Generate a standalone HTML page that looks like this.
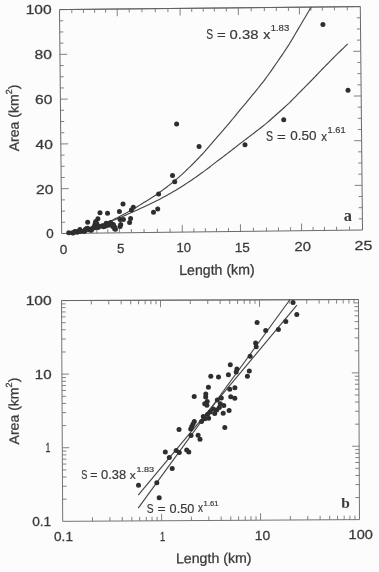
<!DOCTYPE html>
<html><head><meta charset="utf-8"><title>Area vs Length</title>
<style>html,body{margin:0;padding:0;background:#fcfcfc;}svg{display:block}</style></head>
<body><svg width="379" height="572" viewBox="0 0 379 572">
<defs><filter id="soft" x="-2%" y="-2%" width="104%" height="104%"><feGaussianBlur stdDeviation="0.32"/></filter></defs>
<rect width="379" height="572" fill="#fcfcfc"/>
<g filter="url(#soft)">
<polyline points="59.50,9.60 360.30,6.60 362.50,230.00 61.70,233.50 59.50,9.60 360.30,6.60" fill="none" stroke="#626262" stroke-width="0.95" stroke-linejoin="round"/>
<line x1="74.00" y1="233.36" x2="73.96" y2="229.76" stroke="#6c6c6c" stroke-width="0.85"/>
<line x1="71.80" y1="9.48" x2="71.84" y2="13.08" stroke="#6c6c6c" stroke-width="0.85"/>
<line x1="85.60" y1="233.22" x2="85.56" y2="229.62" stroke="#6c6c6c" stroke-width="0.85"/>
<line x1="83.40" y1="9.36" x2="83.44" y2="12.96" stroke="#6c6c6c" stroke-width="0.85"/>
<line x1="96.80" y1="233.09" x2="96.76" y2="229.49" stroke="#6c6c6c" stroke-width="0.85"/>
<line x1="94.60" y1="9.25" x2="94.64" y2="12.85" stroke="#6c6c6c" stroke-width="0.85"/>
<line x1="107.80" y1="232.96" x2="107.76" y2="229.36" stroke="#6c6c6c" stroke-width="0.85"/>
<line x1="105.60" y1="9.14" x2="105.64" y2="12.74" stroke="#6c6c6c" stroke-width="0.85"/>
<line x1="119.40" y1="232.83" x2="119.33" y2="225.63" stroke="#6c6c6c" stroke-width="0.85"/>
<line x1="117.20" y1="9.02" x2="117.27" y2="16.22" stroke="#6c6c6c" stroke-width="0.85"/>
<line x1="131.40" y1="232.69" x2="131.36" y2="229.09" stroke="#6c6c6c" stroke-width="0.85"/>
<line x1="129.20" y1="8.90" x2="129.24" y2="12.50" stroke="#6c6c6c" stroke-width="0.85"/>
<line x1="144.10" y1="232.54" x2="144.06" y2="228.94" stroke="#6c6c6c" stroke-width="0.85"/>
<line x1="141.90" y1="8.78" x2="141.94" y2="12.38" stroke="#6c6c6c" stroke-width="0.85"/>
<line x1="157.40" y1="232.39" x2="157.36" y2="228.79" stroke="#6c6c6c" stroke-width="0.85"/>
<line x1="155.20" y1="8.65" x2="155.24" y2="12.25" stroke="#6c6c6c" stroke-width="0.85"/>
<line x1="170.10" y1="232.24" x2="170.06" y2="228.64" stroke="#6c6c6c" stroke-width="0.85"/>
<line x1="167.90" y1="8.52" x2="167.94" y2="12.12" stroke="#6c6c6c" stroke-width="0.85"/>
<line x1="182.30" y1="232.10" x2="182.23" y2="224.90" stroke="#6c6c6c" stroke-width="0.85"/>
<line x1="180.10" y1="8.40" x2="180.17" y2="15.60" stroke="#6c6c6c" stroke-width="0.85"/>
<line x1="193.90" y1="231.96" x2="193.86" y2="228.36" stroke="#6c6c6c" stroke-width="0.85"/>
<line x1="191.70" y1="8.28" x2="191.74" y2="11.88" stroke="#6c6c6c" stroke-width="0.85"/>
<line x1="205.40" y1="231.83" x2="205.36" y2="228.23" stroke="#6c6c6c" stroke-width="0.85"/>
<line x1="203.20" y1="8.17" x2="203.24" y2="11.77" stroke="#6c6c6c" stroke-width="0.85"/>
<line x1="216.50" y1="231.70" x2="216.46" y2="228.10" stroke="#6c6c6c" stroke-width="0.85"/>
<line x1="214.30" y1="8.06" x2="214.34" y2="11.66" stroke="#6c6c6c" stroke-width="0.85"/>
<line x1="228.50" y1="231.56" x2="228.46" y2="227.96" stroke="#6c6c6c" stroke-width="0.85"/>
<line x1="226.30" y1="7.94" x2="226.34" y2="11.54" stroke="#6c6c6c" stroke-width="0.85"/>
<line x1="240.50" y1="231.42" x2="240.43" y2="224.22" stroke="#6c6c6c" stroke-width="0.85"/>
<line x1="238.30" y1="7.82" x2="238.37" y2="15.02" stroke="#6c6c6c" stroke-width="0.85"/>
<line x1="253.40" y1="231.27" x2="253.36" y2="227.67" stroke="#6c6c6c" stroke-width="0.85"/>
<line x1="251.20" y1="7.69" x2="251.24" y2="11.29" stroke="#6c6c6c" stroke-width="0.85"/>
<line x1="266.50" y1="231.12" x2="266.46" y2="227.52" stroke="#6c6c6c" stroke-width="0.85"/>
<line x1="264.30" y1="7.56" x2="264.34" y2="11.16" stroke="#6c6c6c" stroke-width="0.85"/>
<line x1="278.50" y1="230.98" x2="278.46" y2="227.38" stroke="#6c6c6c" stroke-width="0.85"/>
<line x1="276.30" y1="7.44" x2="276.34" y2="11.04" stroke="#6c6c6c" stroke-width="0.85"/>
<line x1="290.60" y1="230.84" x2="290.56" y2="227.24" stroke="#6c6c6c" stroke-width="0.85"/>
<line x1="288.40" y1="7.32" x2="288.44" y2="10.92" stroke="#6c6c6c" stroke-width="0.85"/>
<line x1="301.60" y1="230.71" x2="301.53" y2="223.51" stroke="#6c6c6c" stroke-width="0.85"/>
<line x1="299.40" y1="7.21" x2="299.47" y2="14.41" stroke="#6c6c6c" stroke-width="0.85"/>
<line x1="313.10" y1="230.57" x2="313.06" y2="226.97" stroke="#6c6c6c" stroke-width="0.85"/>
<line x1="310.90" y1="7.09" x2="310.94" y2="10.69" stroke="#6c6c6c" stroke-width="0.85"/>
<line x1="324.50" y1="230.44" x2="324.46" y2="226.84" stroke="#6c6c6c" stroke-width="0.85"/>
<line x1="322.30" y1="6.98" x2="322.34" y2="10.58" stroke="#6c6c6c" stroke-width="0.85"/>
<line x1="336.60" y1="230.30" x2="336.56" y2="226.70" stroke="#6c6c6c" stroke-width="0.85"/>
<line x1="334.40" y1="6.86" x2="334.44" y2="10.46" stroke="#6c6c6c" stroke-width="0.85"/>
<line x1="349.50" y1="230.15" x2="349.46" y2="226.55" stroke="#6c6c6c" stroke-width="0.85"/>
<line x1="347.30" y1="6.73" x2="347.34" y2="10.33" stroke="#6c6c6c" stroke-width="0.85"/>
<line x1="61.59" y1="222.30" x2="65.19" y2="222.26" stroke="#6c6c6c" stroke-width="0.85"/>
<line x1="362.39" y1="218.83" x2="358.79" y2="218.87" stroke="#6c6c6c" stroke-width="0.85"/>
<line x1="61.48" y1="211.11" x2="65.08" y2="211.07" stroke="#6c6c6c" stroke-width="0.85"/>
<line x1="362.28" y1="207.66" x2="358.68" y2="207.70" stroke="#6c6c6c" stroke-width="0.85"/>
<line x1="61.37" y1="199.91" x2="64.97" y2="199.87" stroke="#6c6c6c" stroke-width="0.85"/>
<line x1="362.17" y1="196.49" x2="358.57" y2="196.53" stroke="#6c6c6c" stroke-width="0.85"/>
<line x1="61.26" y1="188.72" x2="68.66" y2="188.63" stroke="#6c6c6c" stroke-width="0.85"/>
<line x1="362.06" y1="185.32" x2="354.66" y2="185.41" stroke="#6c6c6c" stroke-width="0.85"/>
<line x1="61.15" y1="177.53" x2="64.75" y2="177.48" stroke="#6c6c6c" stroke-width="0.85"/>
<line x1="361.95" y1="174.15" x2="358.35" y2="174.19" stroke="#6c6c6c" stroke-width="0.85"/>
<line x1="61.04" y1="166.33" x2="64.64" y2="166.29" stroke="#6c6c6c" stroke-width="0.85"/>
<line x1="361.84" y1="162.98" x2="358.24" y2="163.02" stroke="#6c6c6c" stroke-width="0.85"/>
<line x1="60.93" y1="155.14" x2="64.53" y2="155.09" stroke="#6c6c6c" stroke-width="0.85"/>
<line x1="361.73" y1="151.81" x2="358.13" y2="151.85" stroke="#6c6c6c" stroke-width="0.85"/>
<line x1="60.82" y1="143.94" x2="68.22" y2="143.85" stroke="#6c6c6c" stroke-width="0.85"/>
<line x1="361.62" y1="140.64" x2="354.22" y2="140.73" stroke="#6c6c6c" stroke-width="0.85"/>
<line x1="60.71" y1="132.75" x2="64.31" y2="132.70" stroke="#6c6c6c" stroke-width="0.85"/>
<line x1="361.51" y1="129.47" x2="357.91" y2="129.51" stroke="#6c6c6c" stroke-width="0.85"/>
<line x1="60.60" y1="121.55" x2="64.20" y2="121.51" stroke="#6c6c6c" stroke-width="0.85"/>
<line x1="361.40" y1="118.30" x2="357.80" y2="118.34" stroke="#6c6c6c" stroke-width="0.85"/>
<line x1="60.49" y1="110.35" x2="64.09" y2="110.31" stroke="#6c6c6c" stroke-width="0.85"/>
<line x1="361.29" y1="107.13" x2="357.69" y2="107.17" stroke="#6c6c6c" stroke-width="0.85"/>
<line x1="60.38" y1="99.16" x2="67.78" y2="99.07" stroke="#6c6c6c" stroke-width="0.85"/>
<line x1="361.18" y1="95.96" x2="353.78" y2="96.05" stroke="#6c6c6c" stroke-width="0.85"/>
<line x1="60.27" y1="87.96" x2="63.87" y2="87.92" stroke="#6c6c6c" stroke-width="0.85"/>
<line x1="361.07" y1="84.79" x2="357.47" y2="84.83" stroke="#6c6c6c" stroke-width="0.85"/>
<line x1="60.16" y1="76.77" x2="63.76" y2="76.73" stroke="#6c6c6c" stroke-width="0.85"/>
<line x1="360.96" y1="73.62" x2="357.36" y2="73.66" stroke="#6c6c6c" stroke-width="0.85"/>
<line x1="60.05" y1="65.58" x2="63.65" y2="65.53" stroke="#6c6c6c" stroke-width="0.85"/>
<line x1="360.85" y1="62.45" x2="357.25" y2="62.49" stroke="#6c6c6c" stroke-width="0.85"/>
<line x1="59.94" y1="54.38" x2="67.34" y2="54.29" stroke="#6c6c6c" stroke-width="0.85"/>
<line x1="360.74" y1="51.28" x2="353.34" y2="51.37" stroke="#6c6c6c" stroke-width="0.85"/>
<line x1="59.83" y1="43.19" x2="63.43" y2="43.14" stroke="#6c6c6c" stroke-width="0.85"/>
<line x1="360.63" y1="40.11" x2="357.03" y2="40.15" stroke="#6c6c6c" stroke-width="0.85"/>
<line x1="59.72" y1="31.99" x2="63.32" y2="31.95" stroke="#6c6c6c" stroke-width="0.85"/>
<line x1="360.52" y1="28.94" x2="356.92" y2="28.98" stroke="#6c6c6c" stroke-width="0.85"/>
<line x1="59.61" y1="20.80" x2="63.21" y2="20.75" stroke="#6c6c6c" stroke-width="0.85"/>
<line x1="360.41" y1="17.77" x2="356.81" y2="17.81" stroke="#6c6c6c" stroke-width="0.85"/>
<polyline points="68.46,233.14 69.91,233.00 71.36,232.84 72.81,232.66 74.24,232.47 75.60,232.26 76.97,232.03 78.33,231.78 79.70,231.52 81.06,231.24 82.43,230.94 83.79,230.63 85.15,230.30 86.49,229.96 87.80,229.60 89.12,229.22 90.43,228.83 91.75,228.42 93.07,228.00 94.38,227.56 95.70,227.11 97.01,226.64 98.30,226.16 99.59,225.66 100.88,225.15 102.17,224.63 103.46,224.08 104.76,223.53 106.05,222.96 107.34,222.38 108.68,221.78 110.04,221.17 111.40,220.54 112.76,219.90 114.12,219.24 115.48,218.58 116.84,217.89 118.20,217.20 119.57,216.49 120.98,215.76 122.39,215.03 123.80,214.28 125.20,213.51 126.61,212.73 128.01,211.94 129.42,211.14 130.83,210.32 132.30,209.49 133.78,208.64 135.27,207.79 136.76,206.91 138.25,206.03 139.74,205.13 141.22,204.22 142.71,203.30 144.22,202.36 145.78,201.41 147.33,200.45 148.89,199.48 150.45,198.49 152.01,197.49 153.56,196.47 155.12,195.45 156.68,194.41 158.18,193.36 159.67,192.29 161.15,191.22 162.64,190.13 164.13,189.03 165.61,187.92 167.10,186.79 168.58,185.65 170.05,184.50 171.48,183.34 172.90,182.17 174.33,180.98 175.76,179.78 177.18,178.57 178.61,177.35 180.03,176.12 181.46,174.87 182.83,173.61 184.18,172.34 185.54,171.06 186.89,169.76 188.24,168.46 189.60,167.14 190.95,165.81 192.31,164.47 193.66,163.11 195.00,161.74 196.34,160.37 197.68,158.98 199.02,157.58 200.36,156.16 201.71,154.74 203.05,153.30 204.39,151.85 205.69,150.39 206.98,148.92 208.28,147.44 209.57,145.94 210.86,144.43 212.16,142.92 213.45,141.39 214.74,139.85 216.07,138.29 217.47,136.73 218.87,135.15 220.27,133.56 221.67,131.96 223.07,130.35 224.46,128.72 225.86,127.09 227.26,125.44 228.66,123.79 230.06,122.12 231.45,120.44 232.85,118.75 234.25,117.04 235.65,115.33 237.04,113.60 238.44,111.87 239.88,110.12 241.38,108.36 242.88,106.58 244.39,104.80 245.89,103.01 247.39,101.20 248.89,99.39 250.40,97.56 251.90,95.72 253.42,93.87 254.95,92.01 256.47,90.13 258.00,88.25 259.52,86.35 261.05,84.45 262.57,82.53 264.10,80.60 265.57,78.67 266.96,76.72 268.36,74.76 269.75,72.79 271.15,70.80 272.54,68.81 273.94,66.81 275.33,64.79 276.73,62.77 278.13,60.73 279.54,58.68 280.94,56.63 282.35,54.56 283.75,52.48 285.16,50.38 286.57,48.28 287.97,46.17 289.32,44.05 290.60,41.91 291.87,39.77 293.15,37.62 294.42,35.45 295.70,33.27 296.97,31.09 298.25,28.89 299.52,26.68 300.85,24.46 302.18,22.23 303.52,19.99 304.85,17.74 306.18,15.48 307.52,13.20 308.85,10.92 310.18,8.63 311.07,7.09" fill="none" stroke="#464646" stroke-width="1.15" stroke-linejoin="round"/>
<polyline points="68.46,232.99 69.91,232.82 71.36,232.63 72.80,232.42 74.24,232.20 75.60,231.96 76.97,231.70 78.33,231.44 79.69,231.16 81.06,230.86 82.42,230.56 83.79,230.24 85.15,229.91 86.48,229.57 87.80,229.21 89.11,228.85 90.43,228.47 91.75,228.09 93.06,227.69 94.38,227.28 95.69,226.87 97.01,226.44 98.30,226.00 99.59,225.56 100.88,225.10 102.17,224.63 103.46,224.16 104.76,223.67 106.05,223.18 107.34,222.68 108.68,222.16 110.04,221.64 111.41,221.11 112.77,220.58 114.13,220.03 115.49,219.47 116.85,218.91 118.21,218.34 119.59,217.76 120.99,217.17 122.40,216.57 123.81,215.97 125.22,215.35 126.63,214.73 128.04,214.10 129.44,213.47 130.85,212.82 132.32,212.17 133.81,211.51 135.30,210.84 136.79,210.17 138.28,209.49 139.77,208.80 141.26,208.10 142.75,207.40 144.26,206.69 145.82,205.97 147.38,205.24 148.94,204.51 150.50,203.77 152.06,203.02 153.62,202.27 155.18,201.51 156.74,200.74 158.25,199.96 159.74,199.18 161.22,198.40 162.71,197.60 164.20,196.80 165.69,196.00 167.18,195.18 168.67,194.36 170.14,193.54 171.57,192.71 173.00,191.87 174.43,191.02 175.86,190.17 177.29,189.31 178.72,188.45 180.15,187.58 181.57,186.70 182.95,185.82 184.31,184.93 185.66,184.04 187.02,183.14 188.38,182.23 189.74,181.32 191.10,180.40 192.45,179.48 193.81,178.55 195.15,177.61 196.50,176.67 197.85,175.72 199.19,174.77 200.54,173.81 201.88,172.84 203.23,171.87 204.58,170.89 205.88,169.91 207.18,168.92 208.48,167.93 209.78,166.93 211.07,165.92 212.37,164.91 213.67,163.89 214.97,162.87 216.30,161.84 217.71,160.81 219.11,159.77 220.52,158.72 221.92,157.67 223.32,156.61 224.73,155.55 226.13,154.48 227.54,153.41 228.94,152.33 230.34,151.25 231.75,150.16 233.15,149.06 234.55,147.96 235.96,146.86 237.36,145.75 238.76,144.63 240.21,143.51 241.71,142.38 243.22,141.25 244.73,140.11 246.24,138.97 247.75,137.82 249.26,136.66 250.77,135.50 252.28,134.34 253.81,133.17 255.34,131.99 256.87,130.81 258.40,129.63 259.94,128.44 261.47,127.24 263.00,126.04 264.53,124.84 266.01,123.63 267.41,122.41 268.82,121.20 270.22,119.97 271.62,118.74 273.02,117.51 274.43,116.27 275.83,115.03 277.23,113.78 278.64,112.52 280.06,111.26 281.47,110.00 282.88,108.73 284.30,107.46 285.71,106.18 287.12,104.90 288.54,103.61 289.89,102.32 291.18,101.02 292.46,99.72 293.74,98.42 295.03,97.11 296.31,95.79 297.59,94.47 298.88,93.15 300.16,91.82 301.50,90.48 302.84,89.14 304.18,87.80 305.53,86.45 306.87,85.10 308.21,83.74 309.55,82.38 310.89,81.01 312.23,79.64 313.56,78.26 314.89,76.88 316.22,75.49 317.55,74.10 318.88,72.71 320.21,71.31 321.54,69.90 322.87,68.50 324.28,67.08 325.69,65.66 327.10,64.24 328.51,62.81 329.93,61.38 331.34,59.94 332.75,58.50 334.16,57.06 335.62,55.61 337.13,54.15 338.63,52.69 340.14,51.23 341.64,49.76 343.15,48.29 344.65,46.81 346.16,45.33 347.67,43.84" fill="none" stroke="#464646" stroke-width="1.15" stroke-linejoin="round"/>
<circle cx="322.90" cy="24.60" r="2.5" fill="#2e2e2e"/>
<circle cx="348.00" cy="90.20" r="2.5" fill="#2e2e2e"/>
<circle cx="283.70" cy="119.70" r="2.5" fill="#2e2e2e"/>
<circle cx="245.00" cy="144.70" r="2.5" fill="#2e2e2e"/>
<circle cx="199.05" cy="146.50" r="2.5" fill="#2e2e2e"/>
<circle cx="176.60" cy="124.10" r="2.5" fill="#2e2e2e"/>
<circle cx="172.50" cy="175.50" r="2.5" fill="#2e2e2e"/>
<circle cx="174.70" cy="181.80" r="2.5" fill="#2e2e2e"/>
<circle cx="158.60" cy="194.00" r="2.5" fill="#2e2e2e"/>
<circle cx="157.70" cy="209.10" r="2.5" fill="#2e2e2e"/>
<circle cx="153.50" cy="212.20" r="2.5" fill="#2e2e2e"/>
<circle cx="133.30" cy="207.20" r="2.5" fill="#2e2e2e"/>
<circle cx="131.40" cy="209.90" r="2.5" fill="#2e2e2e"/>
<circle cx="123.00" cy="203.90" r="2.5" fill="#2e2e2e"/>
<circle cx="119.40" cy="211.40" r="2.5" fill="#2e2e2e"/>
<circle cx="130.60" cy="218.60" r="2.5" fill="#2e2e2e"/>
<circle cx="129.60" cy="222.60" r="2.5" fill="#2e2e2e"/>
<circle cx="123.40" cy="219.60" r="2.5" fill="#2e2e2e"/>
<circle cx="120.10" cy="219.60" r="2.5" fill="#2e2e2e"/>
<circle cx="120.70" cy="224.60" r="2.5" fill="#2e2e2e"/>
<circle cx="120.10" cy="226.60" r="2.5" fill="#2e2e2e"/>
<circle cx="115.40" cy="229.20" r="2.5" fill="#2e2e2e"/>
<circle cx="112.80" cy="224.60" r="2.5" fill="#2e2e2e"/>
<circle cx="114.80" cy="227.20" r="2.5" fill="#2e2e2e"/>
<circle cx="68.75" cy="232.73" r="2.5" fill="#2e2e2e"/>
<circle cx="73.10" cy="232.91" r="2.5" fill="#2e2e2e"/>
<circle cx="72.50" cy="232.64" r="2.5" fill="#2e2e2e"/>
<circle cx="77.18" cy="232.17" r="2.5" fill="#2e2e2e"/>
<circle cx="74.90" cy="231.42" r="2.5" fill="#2e2e2e"/>
<circle cx="76.18" cy="231.71" r="2.5" fill="#2e2e2e"/>
<circle cx="78.72" cy="231.28" r="2.5" fill="#2e2e2e"/>
<circle cx="79.99" cy="231.40" r="2.5" fill="#2e2e2e"/>
<circle cx="83.44" cy="231.20" r="2.5" fill="#2e2e2e"/>
<circle cx="84.52" cy="231.31" r="2.5" fill="#2e2e2e"/>
<circle cx="79.90" cy="229.40" r="2.5" fill="#2e2e2e"/>
<circle cx="85.76" cy="230.01" r="2.5" fill="#2e2e2e"/>
<circle cx="90.09" cy="229.94" r="2.5" fill="#2e2e2e"/>
<circle cx="91.36" cy="230.30" r="2.5" fill="#2e2e2e"/>
<circle cx="87.71" cy="228.23" r="2.5" fill="#2e2e2e"/>
<circle cx="86.93" cy="228.61" r="2.5" fill="#2e2e2e"/>
<circle cx="86.23" cy="228.96" r="2.5" fill="#2e2e2e"/>
<circle cx="85.60" cy="229.29" r="2.5" fill="#2e2e2e"/>
<circle cx="92.46" cy="228.20" r="2.5" fill="#2e2e2e"/>
<circle cx="97.90" cy="218.64" r="2.5" fill="#2e2e2e"/>
<circle cx="87.67" cy="222.37" r="2.5" fill="#2e2e2e"/>
<circle cx="95.76" cy="221.42" r="2.5" fill="#2e2e2e"/>
<circle cx="95.68" cy="222.47" r="2.5" fill="#2e2e2e"/>
<circle cx="110.60" cy="222.59" r="2.5" fill="#2e2e2e"/>
<circle cx="106.23" cy="223.32" r="2.5" fill="#2e2e2e"/>
<circle cx="96.88" cy="223.83" r="2.5" fill="#2e2e2e"/>
<circle cx="94.89" cy="224.49" r="2.5" fill="#2e2e2e"/>
<circle cx="96.63" cy="224.87" r="2.5" fill="#2e2e2e"/>
<circle cx="109.45" cy="224.35" r="2.5" fill="#2e2e2e"/>
<circle cx="113.50" cy="224.72" r="2.5" fill="#2e2e2e"/>
<circle cx="108.34" cy="225.30" r="2.5" fill="#2e2e2e"/>
<circle cx="102.24" cy="225.73" r="2.5" fill="#2e2e2e"/>
<circle cx="105.59" cy="225.92" r="2.5" fill="#2e2e2e"/>
<circle cx="99.41" cy="226.40" r="2.5" fill="#2e2e2e"/>
<circle cx="103.58" cy="226.64" r="2.5" fill="#2e2e2e"/>
<circle cx="112.75" cy="226.50" r="2.5" fill="#2e2e2e"/>
<circle cx="97.10" cy="226.94" r="2.5" fill="#2e2e2e"/>
<circle cx="93.80" cy="227.33" r="2.5" fill="#2e2e2e"/>
<circle cx="98.01" cy="227.59" r="2.5" fill="#2e2e2e"/>
<circle cx="94.93" cy="227.70" r="2.5" fill="#2e2e2e"/>
<circle cx="114.62" cy="228.80" r="2.5" fill="#2e2e2e"/>
<circle cx="99.98" cy="212.69" r="2.5" fill="#2e2e2e"/>
<circle cx="107.53" cy="213.14" r="2.5" fill="#2e2e2e"/>
<text transform="translate(25.72,14.07) rotate(0) scale(1.1408,1)" font-family='"Liberation Sans", Arial, Helvetica, sans-serif' font-size="13.63" fill="#3a3a3a" stroke="#3a3a3a" stroke-width="0.28">100</text>
<text transform="translate(34.52,58.67) rotate(0) scale(1.1713,1)" font-family='"Liberation Sans", Arial, Helvetica, sans-serif' font-size="13.35" fill="#3a3a3a" stroke="#3a3a3a" stroke-width="0.28">80</text>
<text transform="translate(35.11,104.07) rotate(0) scale(1.1651,1)" font-family='"Liberation Sans", Arial, Helvetica, sans-serif' font-size="13.35" fill="#3a3a3a" stroke="#3a3a3a" stroke-width="0.28">60</text>
<text transform="translate(35.54,148.77) rotate(0) scale(1.1879,1)" font-family='"Liberation Sans", Arial, Helvetica, sans-serif' font-size="13.06" fill="#3a3a3a" stroke="#3a3a3a" stroke-width="0.28">40</text>
<text transform="translate(36.11,193.57) rotate(0) scale(1.1972,1)" font-family='"Liberation Sans", Arial, Helvetica, sans-serif' font-size="13.06" fill="#3a3a3a" stroke="#3a3a3a" stroke-width="0.28">20</text>
<text transform="translate(46.18,238.37) rotate(0) scale(1.0138,1)" font-family='"Liberation Sans", Arial, Helvetica, sans-serif' font-size="13.21" fill="#3a3a3a" stroke="#3a3a3a" stroke-width="0.28">0</text>
<text transform="translate(59.77,253.67) rotate(0) scale(1.0296,1)" font-family='"Liberation Sans", Arial, Helvetica, sans-serif' font-size="13.21" fill="#3a3a3a" stroke="#3a3a3a" stroke-width="0.28">0</text>
<text transform="translate(117.07,252.87) rotate(0) scale(1.0023,1)" font-family='"Liberation Sans", Arial, Helvetica, sans-serif' font-size="13.26" fill="#3a3a3a" stroke="#3a3a3a" stroke-width="0.28">5</text>
<text transform="translate(176.51,252.37) rotate(0) scale(0.9980,1)" font-family='"Liberation Sans", Arial, Helvetica, sans-serif' font-size="13.06" fill="#3a3a3a" stroke="#3a3a3a" stroke-width="0.28">10</text>
<text transform="translate(234.67,251.77) rotate(0) scale(1.0134,1)" font-family='"Liberation Sans", Arial, Helvetica, sans-serif' font-size="13.40" fill="#3a3a3a" stroke="#3a3a3a" stroke-width="0.28">15</text>
<text transform="translate(294.56,251.07) rotate(0) scale(1.1059,1)" font-family='"Liberation Sans", Arial, Helvetica, sans-serif' font-size="13.35" fill="#3a3a3a" stroke="#3a3a3a" stroke-width="0.28">20</text>
<text transform="translate(354.60,250.37) rotate(0) scale(1.1973,1)" font-family='"Liberation Sans", Arial, Helvetica, sans-serif' font-size="13.35" fill="#3a3a3a" stroke="#3a3a3a" stroke-width="0.28">25</text>
<text transform="translate(179.24,275.03) rotate(-0.5) scale(0.9885,1)" font-family='"Liberation Sans", Arial, Helvetica, sans-serif' font-size="14.32" fill="#3a3a3a" stroke="#3a3a3a" stroke-width="0.28">Length (km)</text>
<text transform="translate(18.90,151.30) rotate(-90.5) scale(1.0205,1)" font-family='"Liberation Sans", Arial, Helvetica, sans-serif' font-size="13.8" fill="#3a3a3a" stroke="#3a3a3a" stroke-width="0.28">Area (km<tspan font-size="8.83" dy="-6.3">2</tspan><tspan dy="6.3">)</tspan></text>
<text transform="translate(206.33,39.16) rotate(0) scale(0.7329,1)" font-family='"Liberation Sans", Arial, Helvetica, sans-serif' font-size="13.98" fill="#383838" stroke="#383838" stroke-width="0.18">S</text>
<text transform="translate(216.97,38.98) rotate(0) scale(1.2106,1)" font-family='"Liberation Sans", Arial, Helvetica, sans-serif' font-size="12.41" fill="#383838" stroke="#383838" stroke-width="0.18">=</text>
<text transform="translate(229.52,38.87) rotate(0) scale(1.1076,1)" font-family='"Liberation Sans", Arial, Helvetica, sans-serif' font-size="13.42" fill="#383838" stroke="#383838" stroke-width="0.18">0.38</text>
<text transform="translate(263.34,38.70) rotate(0) scale(1.1387,1)" font-family='"Liberation Sans", Arial, Helvetica, sans-serif' font-size="12.49" fill="#383838" stroke="#383838" stroke-width="0.18">x</text>
<text transform="translate(270.67,31.01) rotate(0) scale(1.0708,1)" font-family='"Liberation Sans", Arial, Helvetica, sans-serif' font-size="8.90" fill="#383838" stroke="#383838" stroke-width="0.18">1.83</text>
<text transform="translate(266.12,140.66) rotate(0) scale(0.7578,1)" font-family='"Liberation Sans", Arial, Helvetica, sans-serif' font-size="13.98" fill="#383838" stroke="#383838" stroke-width="0.18">S</text>
<text transform="translate(276.97,140.58) rotate(0) scale(1.2106,1)" font-family='"Liberation Sans", Arial, Helvetica, sans-serif' font-size="12.41" fill="#383838" stroke="#383838" stroke-width="0.18">=</text>
<text transform="translate(290.37,140.47) rotate(0) scale(1.0053,1)" font-family='"Liberation Sans", Arial, Helvetica, sans-serif' font-size="13.42" fill="#383838" stroke="#383838" stroke-width="0.18">0.50</text>
<text transform="translate(321.27,140.50) rotate(0) scale(0.9210,1)" font-family='"Liberation Sans", Arial, Helvetica, sans-serif' font-size="12.49" fill="#383838" stroke="#383838" stroke-width="0.18">x</text>
<text transform="translate(327.49,132.91) rotate(0) scale(1.0265,1)" font-family='"Liberation Sans", Arial, Helvetica, sans-serif' font-size="9.04" fill="#383838" stroke="#383838" stroke-width="0.18">1.61</text>
<text transform="translate(343.67,220.65) rotate(0) scale(1.0304,1)" font-family='"Liberation Serif", "Times New Roman", serif' font-size="15.87" font-weight="bold" fill="#3a3a3a" stroke="#3a3a3a" stroke-width="0">a</text>
<polyline points="61.50,300.55 358.50,299.50 359.50,519.60 62.70,521.35 61.50,300.55 358.50,299.50" fill="none" stroke="#646464" stroke-width="0.9" stroke-linejoin="round"/>
<line x1="92.48" y1="521.17" x2="92.46" y2="517.17" stroke="#6c6c6c" stroke-width="0.85"/>
<line x1="91.30" y1="300.44" x2="91.32" y2="304.44" stroke="#6c6c6c" stroke-width="0.85"/>
<line x1="62.58" y1="499.19" x2="66.58" y2="499.17" stroke="#6c6c6c" stroke-width="0.85"/>
<line x1="359.40" y1="497.51" x2="355.40" y2="497.54" stroke="#6c6c6c" stroke-width="0.85"/>
<line x1="109.90" y1="521.07" x2="109.88" y2="517.07" stroke="#6c6c6c" stroke-width="0.85"/>
<line x1="108.74" y1="300.38" x2="108.76" y2="304.38" stroke="#6c6c6c" stroke-width="0.85"/>
<line x1="62.51" y1="486.23" x2="66.51" y2="486.21" stroke="#6c6c6c" stroke-width="0.85"/>
<line x1="359.34" y1="484.60" x2="355.34" y2="484.62" stroke="#6c6c6c" stroke-width="0.85"/>
<line x1="122.26" y1="521.00" x2="122.24" y2="517.00" stroke="#6c6c6c" stroke-width="0.85"/>
<line x1="121.10" y1="300.34" x2="121.13" y2="304.34" stroke="#6c6c6c" stroke-width="0.85"/>
<line x1="62.46" y1="477.04" x2="66.46" y2="477.01" stroke="#6c6c6c" stroke-width="0.85"/>
<line x1="359.30" y1="475.43" x2="355.30" y2="475.45" stroke="#6c6c6c" stroke-width="0.85"/>
<line x1="131.85" y1="520.94" x2="131.83" y2="516.94" stroke="#6c6c6c" stroke-width="0.85"/>
<line x1="130.70" y1="300.31" x2="130.72" y2="304.31" stroke="#6c6c6c" stroke-width="0.85"/>
<line x1="62.42" y1="469.91" x2="66.42" y2="469.88" stroke="#6c6c6c" stroke-width="0.85"/>
<line x1="359.27" y1="468.32" x2="355.27" y2="468.34" stroke="#6c6c6c" stroke-width="0.85"/>
<line x1="139.69" y1="520.90" x2="139.66" y2="516.90" stroke="#6c6c6c" stroke-width="0.85"/>
<line x1="138.54" y1="300.28" x2="138.56" y2="304.28" stroke="#6c6c6c" stroke-width="0.85"/>
<line x1="62.39" y1="464.08" x2="66.39" y2="464.05" stroke="#6c6c6c" stroke-width="0.85"/>
<line x1="359.24" y1="462.51" x2="355.24" y2="462.53" stroke="#6c6c6c" stroke-width="0.85"/>
<line x1="146.31" y1="520.86" x2="146.29" y2="516.86" stroke="#6c6c6c" stroke-width="0.85"/>
<line x1="145.16" y1="300.25" x2="145.19" y2="304.25" stroke="#6c6c6c" stroke-width="0.85"/>
<line x1="62.36" y1="459.15" x2="66.36" y2="459.13" stroke="#6c6c6c" stroke-width="0.85"/>
<line x1="359.22" y1="457.60" x2="355.22" y2="457.62" stroke="#6c6c6c" stroke-width="0.85"/>
<line x1="152.05" y1="520.82" x2="152.02" y2="516.82" stroke="#6c6c6c" stroke-width="0.85"/>
<line x1="150.91" y1="300.23" x2="150.93" y2="304.23" stroke="#6c6c6c" stroke-width="0.85"/>
<line x1="62.34" y1="454.88" x2="66.34" y2="454.86" stroke="#6c6c6c" stroke-width="0.85"/>
<line x1="359.20" y1="453.34" x2="355.20" y2="453.37" stroke="#6c6c6c" stroke-width="0.85"/>
<line x1="157.11" y1="520.79" x2="157.08" y2="516.79" stroke="#6c6c6c" stroke-width="0.85"/>
<line x1="155.97" y1="300.22" x2="155.99" y2="304.22" stroke="#6c6c6c" stroke-width="0.85"/>
<line x1="62.32" y1="451.12" x2="66.32" y2="451.09" stroke="#6c6c6c" stroke-width="0.85"/>
<line x1="359.18" y1="449.59" x2="355.18" y2="449.61" stroke="#6c6c6c" stroke-width="0.85"/>
<line x1="161.63" y1="520.77" x2="161.60" y2="513.77" stroke="#6c6c6c" stroke-width="0.85"/>
<line x1="160.50" y1="300.20" x2="160.54" y2="307.20" stroke="#6c6c6c" stroke-width="0.85"/>
<line x1="62.30" y1="447.75" x2="69.30" y2="447.71" stroke="#6c6c6c" stroke-width="0.85"/>
<line x1="359.17" y1="446.23" x2="352.17" y2="446.27" stroke="#6c6c6c" stroke-width="0.85"/>
<line x1="191.42" y1="520.59" x2="191.39" y2="516.59" stroke="#6c6c6c" stroke-width="0.85"/>
<line x1="190.30" y1="300.09" x2="190.32" y2="304.09" stroke="#6c6c6c" stroke-width="0.85"/>
<line x1="62.18" y1="425.59" x2="66.18" y2="425.57" stroke="#6c6c6c" stroke-width="0.85"/>
<line x1="359.07" y1="424.15" x2="355.07" y2="424.17" stroke="#6c6c6c" stroke-width="0.85"/>
<line x1="208.84" y1="520.49" x2="208.81" y2="516.49" stroke="#6c6c6c" stroke-width="0.85"/>
<line x1="207.74" y1="300.03" x2="207.76" y2="304.03" stroke="#6c6c6c" stroke-width="0.85"/>
<line x1="62.11" y1="412.63" x2="66.11" y2="412.61" stroke="#6c6c6c" stroke-width="0.85"/>
<line x1="359.01" y1="411.23" x2="355.01" y2="411.25" stroke="#6c6c6c" stroke-width="0.85"/>
<line x1="221.20" y1="520.42" x2="221.18" y2="516.42" stroke="#6c6c6c" stroke-width="0.85"/>
<line x1="220.10" y1="299.99" x2="220.13" y2="303.99" stroke="#6c6c6c" stroke-width="0.85"/>
<line x1="62.06" y1="403.44" x2="66.06" y2="403.41" stroke="#6c6c6c" stroke-width="0.85"/>
<line x1="358.97" y1="402.06" x2="354.97" y2="402.09" stroke="#6c6c6c" stroke-width="0.85"/>
<line x1="230.78" y1="520.36" x2="230.76" y2="516.36" stroke="#6c6c6c" stroke-width="0.85"/>
<line x1="229.70" y1="299.96" x2="229.72" y2="303.96" stroke="#6c6c6c" stroke-width="0.85"/>
<line x1="62.02" y1="396.31" x2="66.02" y2="396.28" stroke="#6c6c6c" stroke-width="0.85"/>
<line x1="358.93" y1="394.95" x2="354.93" y2="394.98" stroke="#6c6c6c" stroke-width="0.85"/>
<line x1="238.62" y1="520.31" x2="238.60" y2="516.31" stroke="#6c6c6c" stroke-width="0.85"/>
<line x1="237.54" y1="299.93" x2="237.56" y2="303.93" stroke="#6c6c6c" stroke-width="0.85"/>
<line x1="61.99" y1="390.48" x2="65.99" y2="390.45" stroke="#6c6c6c" stroke-width="0.85"/>
<line x1="358.91" y1="389.14" x2="354.91" y2="389.17" stroke="#6c6c6c" stroke-width="0.85"/>
<line x1="245.24" y1="520.27" x2="245.22" y2="516.27" stroke="#6c6c6c" stroke-width="0.85"/>
<line x1="244.16" y1="299.90" x2="244.19" y2="303.90" stroke="#6c6c6c" stroke-width="0.85"/>
<line x1="61.96" y1="385.55" x2="65.96" y2="385.53" stroke="#6c6c6c" stroke-width="0.85"/>
<line x1="358.88" y1="384.23" x2="354.89" y2="384.25" stroke="#6c6c6c" stroke-width="0.85"/>
<line x1="250.98" y1="520.24" x2="250.96" y2="516.24" stroke="#6c6c6c" stroke-width="0.85"/>
<line x1="249.91" y1="299.88" x2="249.93" y2="303.88" stroke="#6c6c6c" stroke-width="0.85"/>
<line x1="61.94" y1="381.28" x2="65.94" y2="381.26" stroke="#6c6c6c" stroke-width="0.85"/>
<line x1="358.87" y1="379.98" x2="354.87" y2="380.00" stroke="#6c6c6c" stroke-width="0.85"/>
<line x1="256.04" y1="520.21" x2="256.02" y2="516.21" stroke="#6c6c6c" stroke-width="0.85"/>
<line x1="254.97" y1="299.87" x2="254.99" y2="303.87" stroke="#6c6c6c" stroke-width="0.85"/>
<line x1="61.92" y1="377.52" x2="65.92" y2="377.49" stroke="#6c6c6c" stroke-width="0.85"/>
<line x1="358.85" y1="376.22" x2="354.85" y2="376.25" stroke="#6c6c6c" stroke-width="0.85"/>
<line x1="260.57" y1="520.18" x2="260.53" y2="513.18" stroke="#6c6c6c" stroke-width="0.85"/>
<line x1="259.50" y1="299.85" x2="259.54" y2="306.85" stroke="#6c6c6c" stroke-width="0.85"/>
<line x1="61.90" y1="374.15" x2="68.90" y2="374.11" stroke="#6c6c6c" stroke-width="0.85"/>
<line x1="358.83" y1="372.87" x2="351.83" y2="372.91" stroke="#6c6c6c" stroke-width="0.85"/>
<line x1="290.35" y1="520.01" x2="290.33" y2="516.01" stroke="#6c6c6c" stroke-width="0.85"/>
<line x1="289.30" y1="299.74" x2="289.32" y2="303.74" stroke="#6c6c6c" stroke-width="0.85"/>
<line x1="61.78" y1="351.99" x2="65.78" y2="351.97" stroke="#6c6c6c" stroke-width="0.85"/>
<line x1="358.73" y1="350.78" x2="354.73" y2="350.80" stroke="#6c6c6c" stroke-width="0.85"/>
<line x1="307.77" y1="519.91" x2="307.75" y2="515.91" stroke="#6c6c6c" stroke-width="0.85"/>
<line x1="306.74" y1="299.68" x2="306.76" y2="303.68" stroke="#6c6c6c" stroke-width="0.85"/>
<line x1="61.71" y1="339.03" x2="65.71" y2="339.01" stroke="#6c6c6c" stroke-width="0.85"/>
<line x1="358.67" y1="337.86" x2="354.67" y2="337.89" stroke="#6c6c6c" stroke-width="0.85"/>
<line x1="320.13" y1="519.83" x2="320.11" y2="515.83" stroke="#6c6c6c" stroke-width="0.85"/>
<line x1="319.10" y1="299.64" x2="319.13" y2="303.64" stroke="#6c6c6c" stroke-width="0.85"/>
<line x1="61.66" y1="329.84" x2="65.66" y2="329.81" stroke="#6c6c6c" stroke-width="0.85"/>
<line x1="358.63" y1="328.70" x2="354.63" y2="328.72" stroke="#6c6c6c" stroke-width="0.85"/>
<line x1="329.72" y1="519.78" x2="329.70" y2="515.78" stroke="#6c6c6c" stroke-width="0.85"/>
<line x1="328.70" y1="299.61" x2="328.72" y2="303.61" stroke="#6c6c6c" stroke-width="0.85"/>
<line x1="61.62" y1="322.71" x2="65.62" y2="322.68" stroke="#6c6c6c" stroke-width="0.85"/>
<line x1="358.60" y1="321.59" x2="354.60" y2="321.61" stroke="#6c6c6c" stroke-width="0.85"/>
<line x1="337.55" y1="519.73" x2="337.53" y2="515.73" stroke="#6c6c6c" stroke-width="0.85"/>
<line x1="336.54" y1="299.58" x2="336.56" y2="303.58" stroke="#6c6c6c" stroke-width="0.85"/>
<line x1="61.59" y1="316.88" x2="65.59" y2="316.85" stroke="#6c6c6c" stroke-width="0.85"/>
<line x1="358.57" y1="315.78" x2="354.57" y2="315.80" stroke="#6c6c6c" stroke-width="0.85"/>
<line x1="344.18" y1="519.69" x2="344.15" y2="515.69" stroke="#6c6c6c" stroke-width="0.85"/>
<line x1="343.16" y1="299.55" x2="343.19" y2="303.55" stroke="#6c6c6c" stroke-width="0.85"/>
<line x1="61.56" y1="311.95" x2="65.56" y2="311.93" stroke="#6c6c6c" stroke-width="0.85"/>
<line x1="358.55" y1="310.86" x2="354.55" y2="310.89" stroke="#6c6c6c" stroke-width="0.85"/>
<line x1="349.91" y1="519.66" x2="349.89" y2="515.66" stroke="#6c6c6c" stroke-width="0.85"/>
<line x1="348.91" y1="299.53" x2="348.93" y2="303.53" stroke="#6c6c6c" stroke-width="0.85"/>
<line x1="61.54" y1="307.68" x2="65.54" y2="307.66" stroke="#6c6c6c" stroke-width="0.85"/>
<line x1="358.53" y1="306.61" x2="354.53" y2="306.63" stroke="#6c6c6c" stroke-width="0.85"/>
<line x1="354.97" y1="519.63" x2="354.95" y2="515.63" stroke="#6c6c6c" stroke-width="0.85"/>
<line x1="353.97" y1="299.52" x2="353.99" y2="303.52" stroke="#6c6c6c" stroke-width="0.85"/>
<line x1="61.52" y1="303.92" x2="65.52" y2="303.89" stroke="#6c6c6c" stroke-width="0.85"/>
<line x1="358.52" y1="302.86" x2="354.52" y2="302.88" stroke="#6c6c6c" stroke-width="0.85"/>
<line x1="138.20" y1="508.20" x2="290.05" y2="299.50" stroke="#464646" stroke-width="1.15"/>
<line x1="138.20" y1="495.20" x2="296.90" y2="305.20" stroke="#464646" stroke-width="1.15"/>
<circle cx="138.50" cy="485.20" r="2.5" fill="#2e2e2e"/>
<circle cx="159.20" cy="497.70" r="2.5" fill="#2e2e2e"/>
<circle cx="156.80" cy="482.70" r="2.5" fill="#2e2e2e"/>
<circle cx="172.20" cy="468.50" r="2.5" fill="#2e2e2e"/>
<circle cx="165.30" cy="452.00" r="2.5" fill="#2e2e2e"/>
<circle cx="169.30" cy="457.40" r="2.5" fill="#2e2e2e"/>
<circle cx="176.20" cy="450.40" r="2.5" fill="#2e2e2e"/>
<circle cx="179.30" cy="452.50" r="2.5" fill="#2e2e2e"/>
<circle cx="186.70" cy="449.90" r="2.5" fill="#2e2e2e"/>
<circle cx="188.80" cy="451.90" r="2.5" fill="#2e2e2e"/>
<circle cx="179.00" cy="429.40" r="2.5" fill="#2e2e2e"/>
<circle cx="191.00" cy="435.50" r="2.5" fill="#2e2e2e"/>
<circle cx="198.10" cy="435.20" r="2.5" fill="#2e2e2e"/>
<circle cx="200.00" cy="439.20" r="2.5" fill="#2e2e2e"/>
<circle cx="194.30" cy="421.50" r="2.5" fill="#2e2e2e"/>
<circle cx="193.00" cy="424.00" r="2.5" fill="#2e2e2e"/>
<circle cx="191.80" cy="426.50" r="2.5" fill="#2e2e2e"/>
<circle cx="190.70" cy="429.00" r="2.5" fill="#2e2e2e"/>
<circle cx="201.50" cy="421.60" r="2.5" fill="#2e2e2e"/>
<circle cx="208.40" cy="387.30" r="2.5" fill="#2e2e2e"/>
<circle cx="194.20" cy="396.60" r="2.5" fill="#2e2e2e"/>
<circle cx="205.80" cy="394.10" r="2.5" fill="#2e2e2e"/>
<circle cx="205.70" cy="397.10" r="2.5" fill="#2e2e2e"/>
<circle cx="229.80" cy="389.30" r="2.5" fill="#2e2e2e"/>
<circle cx="234.90" cy="387.80" r="2.5" fill="#2e2e2e"/>
<circle cx="230.70" cy="396.70" r="2.5" fill="#2e2e2e"/>
<circle cx="234.80" cy="398.20" r="2.5" fill="#2e2e2e"/>
<circle cx="221.30" cy="397.90" r="2.5" fill="#2e2e2e"/>
<circle cx="217.30" cy="400.10" r="2.5" fill="#2e2e2e"/>
<circle cx="207.20" cy="401.50" r="2.5" fill="#2e2e2e"/>
<circle cx="204.70" cy="403.80" r="2.5" fill="#2e2e2e"/>
<circle cx="206.90" cy="405.30" r="2.5" fill="#2e2e2e"/>
<circle cx="220.30" cy="403.80" r="2.5" fill="#2e2e2e"/>
<circle cx="223.80" cy="405.40" r="2.5" fill="#2e2e2e"/>
<circle cx="219.30" cy="407.50" r="2.5" fill="#2e2e2e"/>
<circle cx="213.30" cy="409.10" r="2.5" fill="#2e2e2e"/>
<circle cx="216.70" cy="410.10" r="2.5" fill="#2e2e2e"/>
<circle cx="229.10" cy="410.60" r="2.5" fill="#2e2e2e"/>
<circle cx="210.20" cy="412.00" r="2.5" fill="#2e2e2e"/>
<circle cx="214.70" cy="413.40" r="2.5" fill="#2e2e2e"/>
<circle cx="223.20" cy="413.20" r="2.5" fill="#2e2e2e"/>
<circle cx="207.50" cy="414.60" r="2.5" fill="#2e2e2e"/>
<circle cx="203.30" cy="416.50" r="2.5" fill="#2e2e2e"/>
<circle cx="208.60" cy="418.20" r="2.5" fill="#2e2e2e"/>
<circle cx="204.80" cy="418.70" r="2.5" fill="#2e2e2e"/>
<circle cx="224.80" cy="427.60" r="2.5" fill="#2e2e2e"/>
<circle cx="210.80" cy="376.30" r="2.5" fill="#2e2e2e"/>
<circle cx="218.50" cy="377.10" r="2.5" fill="#2e2e2e"/>
<circle cx="228.40" cy="374.70" r="2.5" fill="#2e2e2e"/>
<circle cx="247.40" cy="376.30" r="2.5" fill="#2e2e2e"/>
<circle cx="293.00" cy="302.40" r="2.5" fill="#2e2e2e"/>
<circle cx="296.80" cy="314.40" r="2.5" fill="#2e2e2e"/>
<circle cx="285.80" cy="321.40" r="2.5" fill="#2e2e2e"/>
<circle cx="278.40" cy="329.40" r="2.5" fill="#2e2e2e"/>
<circle cx="257.10" cy="322.40" r="2.5" fill="#2e2e2e"/>
<circle cx="265.70" cy="330.50" r="2.5" fill="#2e2e2e"/>
<circle cx="255.60" cy="343.10" r="2.5" fill="#2e2e2e"/>
<circle cx="256.20" cy="346.70" r="2.5" fill="#2e2e2e"/>
<circle cx="250.10" cy="356.20" r="2.5" fill="#2e2e2e"/>
<circle cx="230.30" cy="364.70" r="2.5" fill="#2e2e2e"/>
<circle cx="236.90" cy="369.10" r="2.5" fill="#2e2e2e"/>
<circle cx="236.20" cy="372.00" r="2.5" fill="#2e2e2e"/>
<circle cx="249.30" cy="371.00" r="2.5" fill="#2e2e2e"/>
<text transform="translate(25.71,305.47) rotate(0) scale(1.1926,1)" font-family='"Liberation Sans", Arial, Helvetica, sans-serif' font-size="13.06" fill="#3a3a3a" stroke="#3a3a3a" stroke-width="0.28">100</text>
<text transform="translate(34.85,378.98) rotate(0) scale(1.1848,1)" font-family='"Liberation Sans", Arial, Helvetica, sans-serif' font-size="12.78" fill="#3a3a3a" stroke="#3a3a3a" stroke-width="0.28">10</text>
<text transform="translate(45.53,451.90) rotate(0) scale(0.6700,1)" font-family='"Liberation Sans", Arial, Helvetica, sans-serif' font-size="13.15" fill="#3a3a3a" stroke="#3a3a3a" stroke-width="0.28">1</text>
<text transform="translate(32.16,525.87) rotate(0) scale(1.0636,1)" font-family='"Liberation Sans", Arial, Helvetica, sans-serif' font-size="12.92" fill="#3a3a3a" stroke="#3a3a3a" stroke-width="0.28">0.1</text>
<text transform="translate(54.07,541.28) rotate(0) scale(1.0752,1)" font-family='"Liberation Sans", Arial, Helvetica, sans-serif' font-size="12.64" fill="#3a3a3a" stroke="#3a3a3a" stroke-width="0.28">0.1</text>
<text transform="translate(159.99,540.90) rotate(0) scale(0.7132,1)" font-family='"Liberation Sans", Arial, Helvetica, sans-serif' font-size="13.01" fill="#3a3a3a" stroke="#3a3a3a" stroke-width="0.28">1</text>
<text transform="translate(254.74,539.98) rotate(0) scale(1.1028,1)" font-family='"Liberation Sans", Arial, Helvetica, sans-serif' font-size="12.64" fill="#3a3a3a" stroke="#3a3a3a" stroke-width="0.28">10</text>
<text transform="translate(348.59,539.18) rotate(0) scale(1.1510,1)" font-family='"Liberation Sans", Arial, Helvetica, sans-serif' font-size="12.64" fill="#3a3a3a" stroke="#3a3a3a" stroke-width="0.28">100</text>
<text transform="translate(175.88,563.17) rotate(-0.3) scale(1.0070,1)" font-family='"Liberation Sans", Arial, Helvetica, sans-serif' font-size="14.11" fill="#3a3a3a" stroke="#3a3a3a" stroke-width="0.28">Length (km)</text>
<text transform="translate(18.90,444.50) rotate(-90.5) scale(1.0205,1)" font-family='"Liberation Sans", Arial, Helvetica, sans-serif' font-size="13.8" fill="#3a3a3a" stroke="#3a3a3a" stroke-width="0.28">Area (km<tspan font-size="8.83" dy="-6.3">2</tspan><tspan dy="6.3">)</tspan></text>
<text transform="translate(81.18,478.88) rotate(0) scale(0.7492,1)" font-family='"Liberation Sans", Arial, Helvetica, sans-serif' font-size="12.29" fill="#383838" stroke="#383838" stroke-width="0.18">S</text>
<text transform="translate(90.20,478.68) rotate(0) scale(1.1055,1)" font-family='"Liberation Sans", Arial, Helvetica, sans-serif' font-size="11.17" fill="#383838" stroke="#383838" stroke-width="0.18">=</text>
<text transform="translate(101.09,478.88) rotate(0) scale(1.0645,1)" font-family='"Liberation Sans", Arial, Helvetica, sans-serif' font-size="12.15" fill="#383838" stroke="#383838" stroke-width="0.18">0.38</text>
<text transform="translate(129.67,478.70) rotate(0) scale(1.0327,1)" font-family='"Liberation Sans", Arial, Helvetica, sans-serif' font-size="11.55" fill="#383838" stroke="#383838" stroke-width="0.18">x</text>
<text transform="translate(136.41,472.32) rotate(0) scale(1.1631,1)" font-family='"Liberation Sans", Arial, Helvetica, sans-serif' font-size="7.77" fill="#383838" stroke="#383838" stroke-width="0.18">1.83</text>
<text transform="translate(146.63,512.78) rotate(0) scale(0.8340,1)" font-family='"Liberation Sans", Arial, Helvetica, sans-serif' font-size="12.29" fill="#383838" stroke="#383838" stroke-width="0.18">S</text>
<text transform="translate(157.52,513.28) rotate(0) scale(1.1870,1)" font-family='"Liberation Sans", Arial, Helvetica, sans-serif' font-size="11.79" fill="#383838" stroke="#383838" stroke-width="0.18">=</text>
<text transform="translate(169.60,512.78) rotate(0) scale(1.0444,1)" font-family='"Liberation Sans", Arial, Helvetica, sans-serif' font-size="12.15" fill="#383838" stroke="#383838" stroke-width="0.18">0.50</text>
<text transform="translate(198.09,512.20) rotate(0) scale(0.8289,1)" font-family='"Liberation Sans", Arial, Helvetica, sans-serif' font-size="12.11" fill="#383838" stroke="#383838" stroke-width="0.18">x</text>
<text transform="translate(203.61,506.22) rotate(0) scale(0.9895,1)" font-family='"Liberation Sans", Arial, Helvetica, sans-serif' font-size="7.77" fill="#383838" stroke="#383838" stroke-width="0.18">1.61</text>
<text transform="translate(341.20,507.56) rotate(0) scale(1.1135,1)" font-family='"Liberation Serif", "Times New Roman", serif' font-size="13.93" font-weight="bold" fill="#3a3a3a" stroke="#3a3a3a" stroke-width="0">b</text>
</g>
</svg></body></html>
